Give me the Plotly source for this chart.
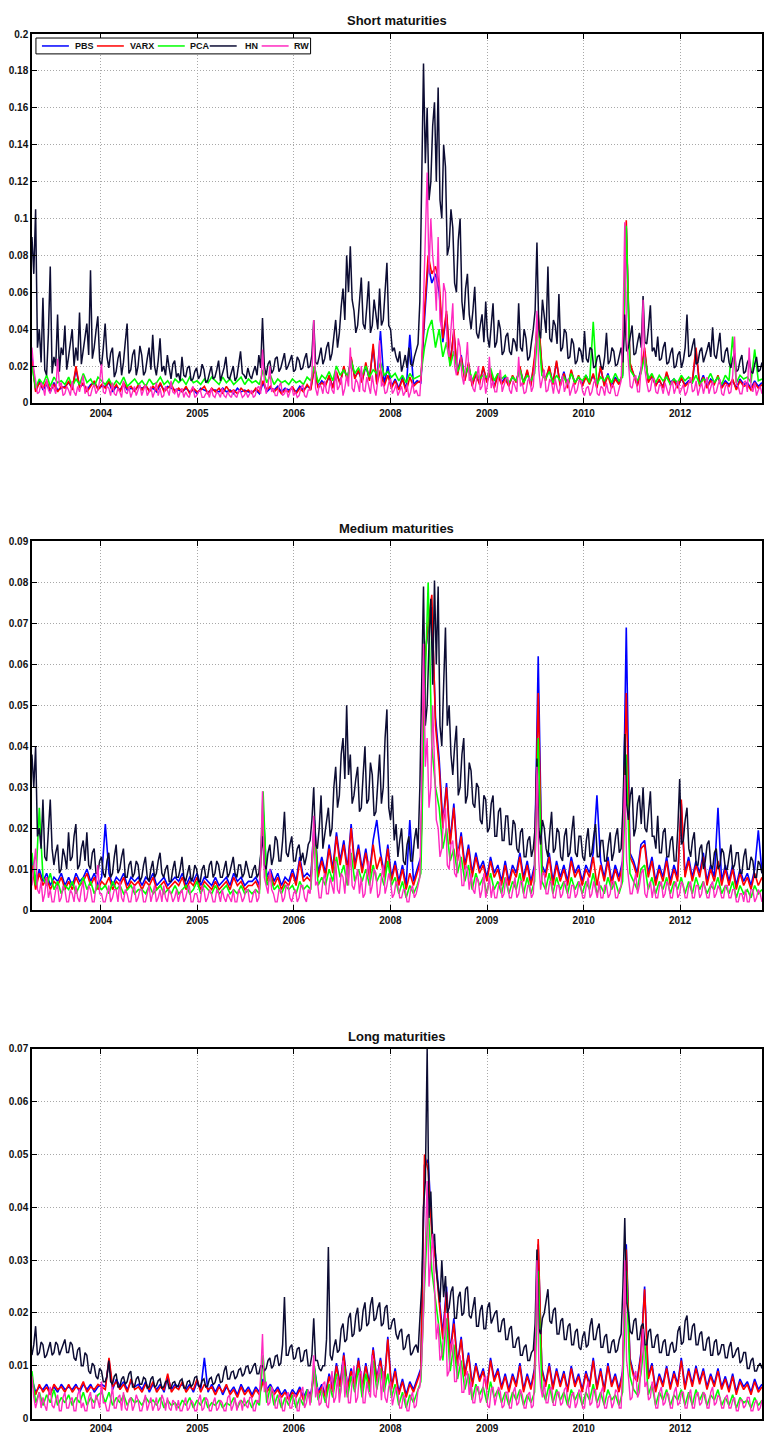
import numpy as np
import plotly.graph_objects as go

# Forecast-error series, in basis points (1 bp = 0.0001).
# HN and RW are sampled twice as often as the other models.
TICK_POS = [18.8, 45.1, 71.4, 97.7, 124.1, 150.4, 176.7]
TICK_LABELS = ["2004", "2005", "2006", "2008", "2009", "2010", "2012"]
SERIES = ["PBS", "VARX", "PCA", "HN", "RW"]
COLORS = {"PBS": "#0000ff", "VARX": "#ff0000", "PCA": "#00ff00", "HN": "#0c0c33", "RW": "#ff2ac0"}
WIDTHS = {"PBS": 1.6, "VARX": 1.6, "PCA": 1.6, "HN": 1.5, "RW": 1.4}

# ---- Short maturities ----
short_pbs = [250, 70, 120, 70, 100, 60, 110, 70, 80, 90,
             110, 80, 180, 90, 100, 70, 100, 110, 80, 90,
             90, 110, 60, 90, 70, 100, 70, 80, 70, 90,
             80, 90, 70, 80, 60, 100, 70, 90, 80, 70,
             70, 60, 80, 60, 70, 50, 80, 70, 60, 70,
             70, 60, 80, 60, 70, 50, 80, 60, 70, 60,
             60, 70, 50, 110, 60, 80, 70, 90, 60, 80,
             70, 80, 60, 90, 70, 90, 80, 190, 90, 120,
             100, 140, 90, 160, 110, 190, 130, 240, 140, 170,
             120, 200, 130, 300, 110, 390, 100, 200, 90, 130,
             80, 140, 70, 370, 100, 120, 110, 450, 750, 650,
             700, 600, 330, 480, 220, 380, 160, 260, 130, 210,
             100, 150, 110, 190, 120, 160, 90, 160, 110, 140,
             100, 140, 120, 190, 110, 170, 100, 230, 460, 190,
             130, 190, 110, 220, 100, 170, 90, 170, 110, 140,
             100, 150, 110, 150, 90, 190, 100, 160, 90, 140,
             110, 150, 950, 210, 160, 100, 180, 280, 120, 140,
             100, 120, 90, 160, 110, 130, 90, 130, 100, 120,
             110, 280, 100, 150, 90, 130, 110, 140, 90, 120,
             100, 120, 80, 130, 100, 110, 80, 120, 90, 110]
short_varx = [230, 60, 110, 80, 120, 70, 100, 60, 90, 80,
              120, 70, 200, 80, 110, 60, 90, 120, 70, 100,
              80, 120, 70, 100, 60, 110, 80, 90, 60, 100,
              70, 100, 60, 90, 70, 110, 60, 80, 100, 60,
              80, 60, 90, 50, 80, 60, 70, 90, 50, 80,
              60, 80, 50, 90, 60, 70, 50, 80, 60, 70,
              50, 80, 60, 120, 70, 90, 60, 80, 50, 70,
              60, 90, 50, 80, 60, 100, 70, 200, 80, 110,
              90, 150, 80, 170, 100, 200, 120, 250, 130, 180,
              110, 220, 120, 320, 100, 180, 90, 150, 80, 120,
              70, 130, 60, 140, 90, 110, 120, 500, 800, 700,
              740, 650, 350, 500, 200, 400, 150, 250, 120, 220,
              90, 160, 100, 200, 110, 170, 80, 150, 100, 130,
              90, 150, 110, 200, 100, 180, 90, 250, 480, 200,
              120, 200, 100, 230, 90, 160, 80, 180, 100, 150,
              90, 140, 100, 160, 80, 200, 90, 150, 80, 130,
              100, 160, 990, 220, 150, 90, 170, 300, 110, 150,
              90, 130, 80, 170, 100, 120, 80, 140, 90, 110,
              120, 300, 90, 140, 80, 120, 100, 150, 80, 110,
              90, 130, 70, 120, 90, 100, 70, 110, 80, 100]
short_pca = [200, 80, 130, 100, 150, 90, 140, 110, 120, 100,
             140, 90, 130, 100, 160, 110, 130, 90, 140, 120,
             100, 130, 90, 120, 100, 140, 90, 110, 130, 100,
             120, 90, 130, 100, 110, 140, 100, 120, 90, 130,
             110, 130, 100, 140, 110, 120, 100, 130, 110, 140,
             120, 100, 140, 110, 130, 100, 120, 140, 100, 130,
             110, 120, 100, 180, 110, 150, 100, 130, 110, 120,
             100, 130, 110, 120, 100, 140, 120, 200, 110, 150,
             130, 170, 120, 200, 150, 180, 140, 230, 160, 190,
             150, 200, 140, 180, 160, 220, 150, 170, 140, 160,
             120, 150, 110, 160, 130, 140, 150, 300, 400, 450,
             300, 400, 250, 330, 200, 280, 170, 220, 150, 200,
             120, 170, 130, 150, 140, 190, 120, 160, 130, 150,
             110, 140, 120, 180, 110, 150, 120, 160, 420, 150,
             130, 170, 110, 150, 120, 140, 100, 160, 110, 140,
             120, 150, 110, 440, 100, 140, 120, 150, 110, 160,
             120, 140, 960, 180, 150, 120, 160, 250, 130, 160,
             110, 150, 120, 140, 100, 130, 110, 150, 120, 140,
             110, 150, 100, 130, 120, 160, 110, 140, 100, 150,
             120, 360, 110, 150, 130, 140, 110, 290, 120, 130]
short_hn = [900, 700, 1050, 300, 400, 220, 570, 180, 150, 380, 740, 160, 250, 200, 480, 170, 300, 260, 420, 180,
            250, 330, 400, 200, 300, 230, 490, 210, 280, 350, 430, 260, 720, 240, 300, 390, 470, 230, 200, 300,
            430, 250, 190, 270, 300, 140, 170, 240, 280, 150, 220, 330, 430, 160, 180, 260, 290, 150, 200, 310,
            260, 150, 170, 240, 300, 180, 370, 200, 150, 230, 350, 170, 200, 150, 260, 190, 130, 210, 230, 140,
            160, 120, 250, 150, 140, 190, 200, 120, 130, 170, 190, 130, 150, 210, 180, 110, 120, 160, 200, 130,
            140, 180, 230, 120, 150, 190, 250, 140, 130, 170, 200, 120, 140, 210, 280, 160, 150, 130, 190, 150,
            130, 170, 200, 150, 260, 190, 460, 200, 150, 210, 230, 160, 180, 240, 250, 170, 190, 230, 270, 180,
            200, 230, 260, 170, 180, 250, 230, 180, 190, 240, 270, 190, 200, 260, 450, 220, 210, 250, 300, 210,
            240, 300, 330, 230, 270, 360, 450, 300, 380, 520, 620, 450, 800, 600, 850, 560, 500, 380, 420, 550,
            680, 430, 400, 520, 660, 380, 420, 560, 480, 400, 620, 420, 450, 580, 760, 420, 400, 280, 300, 250,
            220, 280, 170, 210, 260, 190, 300, 210, 200, 250, 280, 320, 550, 1200, 1840, 1300, 1600, 1100, 1200, 1500,
            1630, 1200, 1710, 1100, 1000, 1400, 1280, 800, 850, 1050, 950, 650, 600, 880, 1000, 550, 450, 620, 700, 480,
            400, 500, 630, 380, 350, 420, 480, 330, 550, 360, 300, 420, 540, 300, 330, 450, 400, 260, 280, 360,
            380, 280, 260, 350, 330, 280, 540, 300, 280, 400, 350, 230, 250, 330, 400, 500, 870, 400, 350, 560,
            450, 380, 740, 350, 330, 450, 420, 320, 590, 280, 300, 400, 380, 240, 250, 350, 320, 210, 230, 300,
            280, 220, 390, 240, 220, 300, 290, 190, 200, 250, 260, 200, 180, 250, 380, 210, 230, 300, 280, 200,
            210, 250, 300, 220, 480, 280, 300, 360, 420, 260, 270, 330, 380, 300, 580, 330, 320, 410, 530, 280,
            300, 250, 360, 230, 240, 300, 330, 210, 220, 270, 300, 190, 200, 260, 280, 190, 230, 300, 480, 250,
            260, 310, 350, 210, 220, 280, 300, 220, 250, 290, 330, 250, 410, 260, 240, 300, 380, 230, 220, 280,
            300, 220, 190, 240, 270, 170, 180, 230, 260, 160, 170, 220, 240, 170, 160, 210, 250, 170, 180, 220]
short_rw = [300, 180, 120, 50, 60, 110, 90, 40, 130, 70, 50, 100, 80, 50, 240, 90, 110, 40, 50, 90,
            70, 40, 120, 60, 40, 90, 60, 110, 150, 50, 90, 40, 40, 80, 100, 50, 70, 120, 210, 60,
            50, 90, 80, 40, 110, 50, 40, 80, 60, 30, 120, 60, 50, 90, 30, 60, 90, 40, 70, 100,
            40, 70, 100, 40, 60, 90, 30, 60, 110, 40, 80, 30, 40, 90, 70, 40, 120, 60, 50, 80,
            30, 60, 80, 30, 60, 40, 30, 70, 90, 30, 40, 60, 70, 30, 30, 50, 60, 30, 80, 40,
            30, 60, 50, 30, 80, 40, 30, 60, 40, 30, 70, 40, 30, 70, 60, 30, 40, 60, 30, 50,
            70, 30, 40, 80, 90, 50, 290, 120, 50, 90, 200, 60, 80, 40, 40, 90, 110, 40, 50, 80,
            30, 60, 90, 40, 60, 30, 40, 80, 100, 40, 30, 70, 70, 150, 450, 80, 40, 100, 90, 50,
            120, 60, 50, 120, 70, 50, 180, 70, 90, 140, 40, 80, 150, 90, 300, 80, 60, 130, 110, 60,
            200, 70, 60, 140, 90, 50, 150, 80, 40, 120, 340, 90, 110, 50, 60, 110, 130, 50, 70, 100,
            40, 70, 90, 40, 60, 100, 30, 60, 110, 50, 70, 40, 40, 200, 600, 900, 1250, 700, 1000, 800,
            700, 500, 900, 450, 400, 650, 600, 300, 250, 400, 540, 200, 150, 350, 300, 150, 100, 200, 330, 120,
            150, 80, 60, 130, 200, 70, 90, 160, 50, 100, 250, 80, 120, 60, 60, 140, 180, 60, 90, 130,
            140, 70, 50, 120, 90, 60, 250, 90, 110, 50, 60, 120, 140, 60, 90, 250, 500, 180, 80, 140,
            180, 60, 70, 130, 110, 50, 130, 80, 50, 100, 150, 60, 90, 130, 40, 80, 110, 50, 70, 120,
            120, 60, 40, 80, 90, 40, 60, 110, 130, 50, 40, 90, 80, 40, 110, 60, 50, 100, 90, 40,
            40, 80, 120, 400, 980, 350, 200, 90, 80, 130, 150, 60, 60, 200, 560, 180, 110, 60, 70, 130,
            130, 60, 50, 100, 90, 50, 110, 70, 40, 90, 120, 50, 80, 120, 50, 80, 100, 40, 60, 110,
            140, 60, 70, 120, 40, 80, 110, 50, 90, 140, 50, 80, 120, 50, 60, 100, 130, 50, 40, 90,
            100, 50, 60, 150, 360, 100, 90, 50, 50, 110, 120, 60, 300, 90, 60, 110, 40, 70, 90, 50]

# ---- Medium maturities ----
medium_pbs = [120, 60, 100, 70, 90, 60, 80, 70, 90, 60,
              80, 60, 90, 70, 80, 100, 70, 90, 60, 80,
              210, 90, 60, 80, 70, 90, 60, 80, 70, 80,
              60, 80, 70, 90, 60, 70, 80, 60, 70, 80,
              70, 90, 60, 80, 70, 90, 60, 80, 70, 60,
              80, 60, 70, 80, 60, 90, 70, 80, 60, 70,
              70, 80, 60, 250, 80, 100, 70, 90, 60, 80,
              70, 100, 70, 130, 80, 90, 80, 220, 90, 130,
              90, 160, 100, 190, 120, 170, 100, 210, 110, 160,
              100, 150, 90, 170, 220, 140, 90, 160, 80, 120,
              70, 110, 60, 220, 70, 100, 130, 620, 680, 740,
              470, 370, 210, 310, 170, 260, 130, 190, 110, 160,
              90, 140, 100, 120, 80, 130, 90, 110, 70, 120,
              70, 110, 90, 140, 80, 120, 70, 110, 620, 110,
              90, 140, 70, 120, 80, 110, 70, 130, 90, 110,
              70, 110, 90, 140, 280, 120, 80, 130, 70, 110,
              80, 120, 690, 140, 120, 90, 160, 170, 90, 130,
              70, 110, 80, 130, 70, 110, 80, 260, 90, 130,
              80, 120, 90, 140, 70, 110, 80, 250, 70, 110,
              70, 110, 60, 100, 70, 90, 60, 100, 195, 90]
medium_varx = [110, 50, 90, 60, 80, 50, 70, 60, 80, 50,
               70, 50, 80, 60, 70, 90, 60, 80, 50, 70,
               60, 80, 50, 70, 60, 80, 50, 70, 60, 70,
               50, 70, 60, 80, 50, 60, 70, 50, 60, 70,
               60, 80, 50, 70, 60, 80, 50, 70, 60, 50,
               70, 50, 60, 70, 50, 80, 60, 70, 50, 60,
               60, 70, 50, 240, 70, 90, 60, 80, 50, 70,
               60, 90, 60, 120, 70, 80, 70, 210, 80, 120,
               80, 150, 90, 180, 110, 160, 90, 200, 100, 150,
               90, 140, 80, 160, 100, 130, 80, 150, 70, 110,
               60, 100, 50, 90, 60, 90, 120, 600, 700, 770,
               450, 350, 200, 300, 160, 250, 120, 180, 100, 150,
               80, 130, 90, 110, 70, 120, 80, 100, 60, 110,
               60, 100, 80, 130, 70, 110, 60, 100, 530, 100,
               80, 130, 60, 110, 70, 100, 60, 120, 80, 100,
               60, 100, 80, 130, 60, 110, 70, 120, 60, 100,
               70, 110, 530, 130, 110, 80, 150, 160, 80, 120,
               60, 100, 70, 120, 60, 100, 70, 270, 80, 120,
               70, 110, 80, 130, 60, 100, 70, 120, 60, 100,
               60, 100, 50, 90, 60, 80, 50, 90, 60, 80]
medium_pca = [140, 60, 250, 80, 60, 90, 50, 70, 40, 60,
              50, 70, 40, 60, 80, 50, 70, 40, 60, 50,
              60, 40, 70, 50, 60, 40, 50, 60, 40, 50,
              50, 40, 60, 40, 50, 60, 40, 50, 40, 60,
              40, 50, 60, 40, 50, 70, 40, 60, 50, 40,
              60, 40, 50, 60, 40, 50, 40, 60, 40, 50,
              40, 50, 40, 290, 60, 80, 50, 60, 40, 60,
              50, 60, 40, 70, 50, 60, 50, 200, 60, 80,
              60, 100, 70, 130, 80, 110, 60, 140, 70, 100,
              70, 100, 60, 110, 70, 90, 60, 120, 60, 80,
              40, 70, 30, 60, 40, 60, 90, 500, 800, 400,
              300, 250, 150, 200, 120, 150, 90, 130, 70, 110,
              50, 90, 60, 80, 40, 90, 50, 70, 40, 80,
              40, 70, 50, 90, 40, 80, 40, 70, 420, 70,
              50, 90, 40, 80, 50, 70, 40, 80, 50, 70,
              40, 70, 50, 90, 40, 60, 40, 80, 50, 70,
              40, 70, 380, 90, 70, 50, 100, 110, 50, 80,
              40, 70, 50, 80, 40, 70, 50, 80, 40, 70,
              40, 80, 50, 70, 40, 60, 50, 80, 40, 60,
              40, 70, 30, 60, 40, 50, 30, 60, 40, 50]
medium_hn = [380, 300, 400, 180, 200, 150, 270, 130, 120, 200, 270, 150, 110, 140, 160, 90, 100, 150, 130, 100,
             190, 120, 130, 180, 210, 100, 110, 150, 170, 120, 190, 110, 100, 140, 150, 90, 90, 120, 130, 90,
             80, 120, 140, 80, 90, 130, 160, 90, 100, 130, 150, 80, 80, 110, 120, 80, 90, 120, 110, 70,
             80, 110, 130, 80, 70, 100, 120, 80, 90, 120, 140, 90, 80, 100, 110, 70, 70, 100, 120, 80,
             80, 100, 130, 80, 70, 90, 110, 70, 80, 110, 100, 70, 70, 100, 110, 80, 80, 110, 120, 80,
             90, 120, 110, 80, 80, 100, 120, 80, 90, 110, 130, 90, 80, 110, 110, 80, 90, 120, 100, 80,
             80, 100, 110, 80, 90, 130, 180, 110, 100, 140, 160, 110, 130, 180, 170, 120, 120, 170, 240, 140,
             130, 160, 180, 120, 120, 150, 160, 120, 140, 110, 130, 160, 170, 220, 300, 160, 150, 200, 280, 150,
             180, 220, 250, 180, 200, 300, 350, 250, 280, 380, 420, 320, 500, 330, 380, 260, 280, 320, 350, 240,
             250, 330, 400, 260, 270, 360, 330, 230, 240, 310, 380, 260, 300, 420, 490, 250, 220, 280, 170, 210,
             130, 170, 200, 120, 110, 160, 180, 120, 120, 170, 200, 150, 300, 550, 790, 450, 500, 650, 760, 550,
             805, 600, 790, 450, 400, 550, 690, 450, 500, 380, 330, 400, 450, 280, 300, 380, 420, 260, 280, 360,
             340, 260, 250, 310, 300, 220, 210, 280, 270, 190, 200, 260, 280, 180, 180, 240, 250, 170, 170, 230,
             230, 160, 160, 220, 210, 150, 140, 190, 200, 130, 130, 170, 180, 130, 150, 200, 370, 200, 160, 220,
             200, 150, 130, 190, 240, 140, 150, 200, 190, 130, 120, 180, 200, 130, 140, 190, 230, 140, 130, 180,
             180, 130, 120, 170, 200, 130, 140, 180, 210, 130, 130, 170, 170, 120, 120, 160, 190, 120, 140, 180,
             200, 140, 150, 250, 430, 260, 220, 280, 300, 180, 200, 260, 280, 210, 300, 200, 190, 240, 290, 180,
             180, 150, 230, 140, 140, 190, 200, 130, 130, 170, 180, 120, 120, 200, 320, 160, 170, 220, 250, 150,
             130, 170, 190, 110, 110, 150, 160, 100, 120, 160, 170, 110, 100, 140, 150, 100, 110, 150, 140, 100,
             100, 130, 160, 100, 110, 140, 140, 90, 90, 130, 150, 100, 100, 130, 120, 80, 80, 120, 110, 90]
medium_rw = [60, 100, 150, 50, 40, 70, 20, 40, 80, 30, 50, 20, 20, 50, 60, 20, 30, 60, 50, 20,
             20, 50, 40, 20, 60, 30, 20, 50, 70, 20, 30, 60, 50, 20, 20, 60, 110, 40, 40, 20,
             20, 40, 60, 20, 30, 50, 50, 20, 70, 30, 20, 50, 40, 20, 20, 50, 60, 20, 30, 50,
             50, 20, 20, 40, 60, 20, 40, 60, 20, 30, 50, 20, 60, 30, 20, 50, 40, 20, 30, 50,
             20, 40, 50, 20, 30, 50, 60, 20, 20, 40, 40, 20, 20, 60, 50, 20, 30, 50, 40, 20,
             20, 50, 40, 20, 50, 30, 20, 40, 30, 20, 50, 20, 20, 50, 40, 20, 30, 50, 50, 20,
             20, 40, 50, 20, 30, 120, 290, 80, 60, 40, 100, 50, 40, 20, 20, 50, 50, 20, 30, 60,
             60, 30, 20, 40, 50, 20, 30, 60, 60, 30, 20, 50, 40, 100, 230, 60, 70, 30, 30, 70,
             90, 40, 40, 80, 60, 40, 120, 50, 40, 90, 80, 40, 110, 60, 150, 60, 50, 80, 100, 40,
             80, 30, 40, 90, 120, 40, 60, 100, 90, 30, 40, 80, 110, 40, 60, 90, 70, 30, 40, 70,
             60, 30, 30, 50, 50, 20, 20, 50, 60, 30, 40, 60, 80, 300, 650, 350, 420, 250, 300, 500,
             350, 220, 200, 130, 150, 230, 250, 110, 100, 160, 170, 90, 80, 150, 130, 60, 60, 110, 100, 50,
             90, 50, 40, 80, 70, 30, 50, 90, 30, 50, 80, 30, 60, 30, 30, 60, 70, 30, 40, 80,
             60, 30, 30, 60, 80, 30, 40, 70, 70, 30, 30, 60, 60, 30, 40, 120, 350, 120, 50, 90,
             90, 40, 40, 70, 70, 30, 30, 60, 60, 30, 40, 70, 70, 30, 30, 60, 60, 30, 40, 70,
             60, 30, 30, 60, 80, 30, 40, 70, 50, 30, 70, 30, 30, 60, 60, 30, 40, 70, 70, 30,
             30, 50, 60, 150, 330, 120, 80, 40, 40, 70, 90, 40, 60, 90, 100, 40, 30, 60, 70, 30,
             60, 30, 30, 60, 70, 30, 40, 70, 60, 30, 30, 60, 70, 30, 40, 70, 60, 30, 30, 60,
             70, 30, 30, 60, 60, 30, 40, 70, 50, 30, 30, 60, 70, 30, 40, 60, 50, 30, 30, 60,
             60, 30, 30, 50, 50, 20, 20, 40, 40, 20, 50, 20, 20, 50, 50, 20, 30, 50, 40, 20]

# ---- Long maturities ----
long_pbs = [75, 50, 60, 55, 65, 50, 60, 50, 65, 55,
            60, 55, 65, 50, 65, 55, 65, 50, 60, 65,
            60, 110, 55, 75, 60, 70, 55, 70, 60, 65,
            55, 70, 50, 65, 55, 65, 50, 80, 55, 65,
            60, 65, 55, 65, 50, 70, 55, 115, 50, 65,
            50, 65, 45, 60, 50, 60, 45, 65, 50, 60,
            45, 60, 50, 75, 55, 65, 50, 60, 45, 55,
            40, 55, 45, 60, 40, 55, 45, 95, 50, 65,
            45, 85, 55, 105, 65, 125, 60, 95, 65, 115,
            60, 105, 65, 135, 75, 115, 65, 155, 60, 95,
            50, 75, 45, 70, 55, 75, 95, 480, 490, 360,
            310, 230, 160, 250, 125, 190, 105, 155, 85, 125,
            65, 105, 75, 95, 60, 115, 75, 95, 60, 85,
            55, 85, 65, 105, 55, 85, 60, 95, 330, 95,
            65, 105, 60, 95, 65, 90, 55, 100, 65, 85,
            55, 90, 65, 115, 60, 95, 55, 105, 65, 85,
            55, 90, 330, 115, 85, 75, 125, 250, 80, 105,
            55, 85, 65, 100, 60, 90, 65, 115, 60, 95,
            65, 100, 70, 95, 60, 85, 65, 95, 60, 80,
            55, 85, 50, 75, 60, 70, 50, 75, 55, 65]
long_varx = [70, 45, 65, 50, 60, 45, 65, 55, 60, 50,
             65, 50, 60, 55, 70, 50, 60, 55, 65, 60,
             55, 115, 60, 70, 55, 65, 50, 75, 55, 60,
             50, 65, 55, 70, 50, 60, 55, 85, 50, 60,
             55, 70, 50, 60, 55, 75, 50, 65, 55, 60,
             45, 60, 50, 65, 45, 55, 40, 60, 45, 55,
             40, 55, 45, 70, 50, 60, 45, 55, 40, 50,
             35, 50, 40, 55, 35, 50, 40, 90, 45, 60,
             40, 80, 50, 100, 60, 120, 55, 90, 60, 110,
             55, 100, 60, 130, 70, 110, 60, 150, 55, 90,
             45, 70, 40, 65, 50, 70, 90, 500, 470, 350,
             300, 220, 150, 240, 120, 180, 100, 150, 80, 120,
             60, 100, 70, 90, 55, 110, 70, 90, 55, 80,
             50, 80, 60, 100, 50, 80, 55, 90, 340, 90,
             60, 100, 55, 90, 60, 85, 50, 95, 60, 80,
             50, 85, 60, 110, 55, 90, 50, 100, 60, 80,
             50, 85, 320, 110, 80, 70, 120, 245, 75, 100,
             50, 80, 60, 95, 55, 85, 60, 110, 55, 90,
             60, 95, 65, 90, 55, 80, 60, 90, 55, 75,
             50, 80, 45, 70, 55, 65, 45, 70, 50, 60]
long_pca = [90, 30, 50, 25, 45, 30, 55, 25, 40, 30,
            45, 25, 40, 30, 50, 25, 40, 30, 45, 50,
            30, 50, 25, 40, 30, 45, 25, 40, 30, 35,
            25, 40, 30, 35, 25, 40, 20, 35, 25, 30,
            20, 35, 25, 40, 20, 35, 25, 40, 20, 30,
            25, 35, 20, 30, 25, 40, 20, 35, 25, 35,
            20, 35, 25, 120, 30, 60, 25, 45, 20, 40,
            25, 45, 20, 40, 25, 55, 30, 100, 35, 55,
            30, 65, 40, 85, 45, 100, 40, 80, 50, 95,
            40, 85, 50, 110, 55, 95, 50, 85, 40, 65,
            25, 50, 20, 45, 30, 50, 70, 250, 400, 280,
            230, 170, 110, 190, 90, 140, 75, 110, 55, 85,
            35, 65, 45, 60, 30, 70, 40, 55, 30, 50,
            25, 50, 35, 55, 25, 45, 30, 50, 280, 55,
            35, 65, 30, 55, 35, 50, 25, 55, 35, 50,
            25, 50, 35, 65, 30, 50, 25, 55, 35, 45,
            25, 50, 280, 80, 55, 45, 85, 150, 45, 65,
            25, 50, 35, 55, 25, 45, 35, 55, 25, 50,
            25, 55, 35, 50, 25, 45, 35, 55, 25, 40,
            25, 45, 20, 40, 30, 35, 20, 40, 25, 35]
long_hn = [120, 140, 175, 120, 125, 145, 140, 115, 120, 135, 145, 120, 125, 145, 140, 120, 130, 140, 150, 125,
           125, 145, 140, 115, 110, 130, 135, 100, 100, 125, 120, 90, 85, 105, 100, 80, 75, 95, 90, 70,
           70, 80, 110, 70, 65, 80, 85, 60, 60, 75, 80, 65, 70, 85, 90, 60, 60, 75, 80, 65,
           65, 78, 75, 58, 60, 75, 80, 60, 62, 72, 75, 58, 60, 70, 72, 57, 58, 68, 70, 60,
           62, 72, 75, 58, 58, 70, 72, 60, 65, 78, 80, 62, 60, 72, 75, 60, 62, 75, 78, 64,
           68, 80, 85, 68, 70, 90, 100, 75, 75, 88, 90, 75, 80, 92, 95, 80, 85, 98, 100, 85,
           90, 100, 105, 85, 85, 100, 100, 90, 95, 110, 115, 95, 100, 118, 120, 100, 105, 140, 230, 120,
           120, 135, 140, 112, 115, 132, 135, 108, 110, 128, 130, 100, 100, 120, 190, 110, 110, 95, 90, 100,
           100, 150, 325, 120, 110, 135, 150, 125, 130, 170, 180, 145, 150, 190, 200, 155, 160, 195, 210, 165,
           170, 205, 220, 175, 180, 215, 230, 185, 190, 210, 220, 175, 180, 210, 215, 170, 170, 185, 190, 160,
           150, 165, 170, 130, 135, 155, 160, 120, 125, 135, 140, 125, 180, 250, 400, 450, 700, 380, 430, 330,
           350, 280, 250, 220, 300, 230, 270, 200, 210, 240, 250, 190, 190, 230, 240, 195, 200, 245, 250, 195,
           190, 215, 230, 175, 175, 205, 215, 170, 170, 210, 220, 180, 190, 200, 205, 165, 165, 185, 190, 150,
           150, 170, 175, 135, 135, 150, 155, 120, 120, 135, 140, 110, 110, 125, 130, 180, 320, 170, 160, 190,
           200, 225, 245, 185, 180, 205, 210, 160, 160, 185, 190, 150, 150, 175, 180, 140, 140, 165, 170, 135,
           130, 155, 165, 135, 140, 175, 190, 150, 150, 170, 180, 135, 135, 155, 160, 125, 125, 145, 150, 125,
           130, 150, 160, 250, 380, 220, 200, 165, 160, 185, 190, 150, 150, 175, 180, 140, 140, 165, 170, 135,
           135, 155, 160, 125, 125, 145, 150, 120, 120, 140, 145, 125, 130, 165, 175, 140, 145, 185, 195, 150,
           150, 175, 180, 140, 140, 160, 165, 130, 130, 150, 155, 120, 120, 145, 150, 120, 125, 140, 140, 115,
           115, 135, 145, 115, 120, 130, 135, 105, 110, 125, 125, 95, 95, 110, 115, 90, 90, 100, 105, 95]
long_rw = [80, 40, 20, 35, 50, 20, 40, 25, 15, 45, 60, 25, 20, 35, 45, 15, 15, 40, 50, 20,
           20, 35, 40, 15, 15, 45, 55, 20, 30, 15, 15, 40, 50, 20, 20, 45, 35, 20, 70, 30,
           30, 15, 15, 35, 60, 20, 20, 40, 45, 15, 50, 20, 15, 35, 40, 15, 25, 45, 35, 15,
           15, 30, 45, 15, 30, 40, 15, 25, 40, 15, 20, 45, 35, 15, 40, 20, 15, 35, 30, 15,
           35, 15, 15, 30, 40, 15, 20, 35, 30, 15, 15, 35, 45, 15, 20, 40, 35, 15, 15, 30,
           40, 15, 20, 35, 30, 15, 15, 40, 45, 15, 25, 40, 15, 30, 35, 15, 40, 25, 20, 40,
           40, 15, 15, 35, 30, 80, 160, 50, 70, 25, 30, 60, 50, 20, 20, 45, 40, 15, 15, 40,
           50, 20, 20, 45, 45, 15, 15, 50, 60, 20, 30, 55, 25, 60, 120, 40, 60, 25, 30, 65,
           70, 25, 20, 60, 90, 30, 40, 80, 30, 60, 110, 40, 80, 30, 30, 70, 100, 30, 40, 85,
           90, 30, 30, 70, 50, 40, 120, 45, 40, 80, 100, 35, 90, 40, 30, 60, 70, 25, 40, 60,
           50, 20, 20, 45, 40, 15, 15, 40, 50, 20, 25, 55, 60, 110, 200, 320, 450, 250, 300, 350,
           250, 150, 180, 110, 120, 170, 200, 80, 90, 140, 150, 70, 70, 110, 120, 50, 50, 80, 90, 45,
           70, 30, 30, 60, 60, 30, 40, 75, 80, 25, 20, 55, 60, 25, 40, 60, 50, 20, 25, 50,
           50, 20, 20, 50, 60, 25, 30, 55, 45, 20, 20, 45, 50, 20, 25, 100, 300, 110, 60, 40,
           70, 30, 30, 55, 60, 25, 25, 50, 50, 25, 30, 55, 60, 25, 20, 45, 50, 20, 30, 55,
           50, 20, 20, 55, 70, 25, 30, 55, 55, 20, 25, 50, 60, 20, 20, 40, 45, 20, 30, 55,
           50, 20, 20, 120, 300, 110, 80, 35, 40, 80, 90, 40, 50, 100, 170, 60, 70, 35, 40, 70,
           50, 20, 20, 50, 60, 25, 30, 50, 45, 20, 20, 50, 60, 25, 30, 50, 50, 20, 20, 45,
           55, 20, 20, 45, 50, 25, 30, 50, 45, 20, 20, 50, 60, 25, 30, 45, 40, 20, 20, 40,
           45, 20, 20, 35, 40, 15, 15, 35, 35, 20, 25, 40, 40, 15, 15, 30, 35, 15, 20, 35]

PANELS = [
    ("Short maturities", [short_pbs, short_varx, short_pca, short_hn, short_rw], 0.2, 0.02),
    ("Medium maturities", [medium_pbs, medium_varx, medium_pca, medium_hn, medium_rw], 0.09, 0.01),
    ("Long maturities", [long_pbs, long_varx, long_pca, long_hn, long_rw], 0.07, 0.01),
]

W, H = 764, 1437
X_LEFT, X_RIGHT = 32, 763
X_MAX = 199
# plot-area top/bottom in pixels for each panel
PANEL_PX = [(28.3, 400.3), (540.0, 911.7), (1051.7, 1424.5)]
TITLE_PX = [15, 527, 1039]
FONT = "Liberation Sans, Arial, Helvetica, sans-serif"


def px(x):
    return x / W


def py(y):
    return 1 - y / H


fig = go.Figure()

for p, (title, data, ymax, dtick) in enumerate(PANELS):
    ax = "" if p == 0 else str(p + 1)
    for name, vals in zip(SERIES, data):
        y = np.asarray(vals, dtype=float) / 1e4
        x = np.linspace(0, X_MAX, len(y))
        fig.add_trace(go.Scatter(
            x=x, y=y, mode="lines", name=name,
            line=dict(color=COLORS[name], width=WIDTHS[name]),
            xaxis="x" + ax, yaxis="y" + ax,
            showlegend=False, hoverinfo="skip",
        ))
    top, bot = PANEL_PX[p]
    common = dict(
        showline=True, linecolor="black", linewidth=1.5, mirror="allticks",
        ticks="inside", ticklen=5, tickwidth=1, tickcolor="black",
        showgrid=True, gridcolor="#a8a8a8", griddash="1px,2px", gridwidth=1,
        zeroline=False,
        tickfont=dict(family=FONT, size=10, color="#111", weight="bold"),
    )
    fig.layout["xaxis" + ax] = dict(
        domain=[px(X_LEFT), px(X_RIGHT)], range=[0, X_MAX], anchor="y" + ax,
        tickmode="array", tickvals=TICK_POS, ticktext=TICK_LABELS, **common)
    fig.layout["yaxis" + ax] = dict(
        domain=[py(bot), py(top)], range=[0, ymax], anchor="x" + ax,
        tickmode="linear", tick0=0, dtick=dtick, **common)
    fig.add_annotation(
        text=title, xref="paper", yref="paper",
        x=px((X_LEFT + X_RIGHT) / 2), y=py(TITLE_PX[p]),
        xanchor="center", yanchor="middle", showarrow=False,
        font=dict(family=FONT, size=13, color="#111", weight="bold"),
    )

# Legend box in the top-left corner of the first panel
LEG_BOX = (36, 32.3, 311, 48.3)
LEG_ITEMS = [("PBS", 42, 72.7), ("VARX", 97, 127.7), ("PCA", 158, 188.3), ("HN", 210, 243.3), ("RW", 262, 292)]
LEG_LINE = 27
shapes = [dict(type="rect", xref="paper", yref="paper",
               x0=px(LEG_BOX[0]), x1=px(LEG_BOX[2]), y0=py(LEG_BOX[3]), y1=py(LEG_BOX[1]),
               line=dict(color="black", width=1), fillcolor="white", layer="above")]
ly = (LEG_BOX[1] + LEG_BOX[3]) / 2
for name, lx, tx in LEG_ITEMS:
    shapes.append(dict(type="line", xref="paper", yref="paper",
                       x0=px(lx), x1=px(lx + LEG_LINE), y0=py(ly), y1=py(ly),
                       line=dict(color=COLORS[name], width=1.5), layer="above"))
    fig.add_annotation(text=name, xref="paper", yref="paper", x=px(tx), y=py(ly),
                       xanchor="left", yanchor="middle", showarrow=False,
                       font=dict(family=FONT, size=9, color="#111", weight="bold"))

fig.update_layout(
    width=W, height=H, autosize=False,
    margin=dict(l=0, r=0, t=0, b=0),
    paper_bgcolor="white", plot_bgcolor="white",
    showlegend=False, shapes=shapes,
)

fig.write_html("out.html")
